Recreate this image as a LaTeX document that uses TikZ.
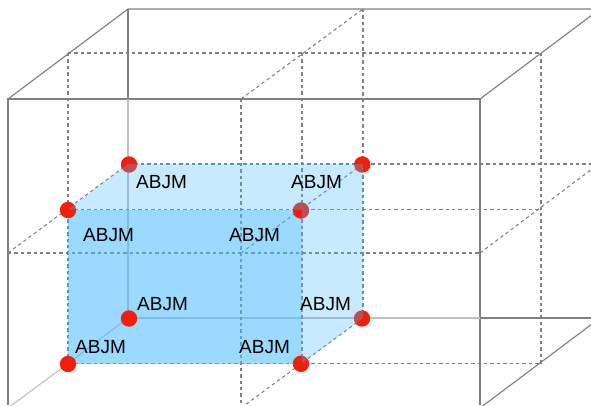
\documentclass[tikz,border=0pt]{standalone}
\usepackage{fontspec}
\setmainfont{Liberation Sans}
\definecolor{frameC}{HTML}{808080}
\definecolor{ghostC}{HTML}{C0C0C0}
\definecolor{dotC}{HTML}{F0200C}
\definecolor{faceC}{HTML}{48B9FF}
\tikzset{
  frame/.style={draw=frameC,line width=1.15pt},
  ghost/.style={draw=ghostC,line width=1.15pt},
  grid/.style={draw=frameC,line width=1.05pt,dash pattern=on 3.4pt off 3pt},
  sideface/.style={fill=faceC,fill opacity=0.3},
  dot/.style={circle,fill=dotC,draw=none,minimum size=16.4pt,inner sep=0pt},
  lab/.style={font=\fontsize{19}{21}\selectfont,text=black,inner sep=0pt}
}
\begin{document}
\begin{tikzpicture}[x=1pt,y=-1pt,line cap=butt]
\useasboundingbox (0,0) rectangle (591,405);
\begin{scope}
\clip (0,0) rectangle (591,405);
% corners of the inner cube
\coordinate (a) at (68,209.5); \coordinate (b) at (302,209.5);
\coordinate (c) at (302,363.5); \coordinate (d) at (68,363.5);
\coordinate (e) at (128,164); \coordinate (f) at (363,164);
\coordinate (g) at (363,318); \coordinate (h) at (128,318);
% solid frame
\draw[frame] (8,405) -- (8,99) -- (480,99) -- (480,405);
\draw[frame] (8,99) -- (128,9) -- (591,9);
\draw[frame] (128,9) -- (128,99);
\draw[frame] (480,99) -- (600,9);
\draw[frame] (480,318) -- (591,318);
\draw[frame] (480,408) -- (600,318);
% light hidden edges
\draw[ghost] (128,99) -- (e) -- (h);
\draw[ghost] (h) -- (480,318);
\draw[ghost] (h) -- (d) -- (8,408);
% dashed grid
\draw[grid] (68,53) -- (541,53);
\draw[grid] (68,53) -- (a) -- (d);
\draw[grid] (541,53) -- (541,363.5);
\draw[grid] (d) -- (541,363.5);
\draw[grid] (241,99) -- (241,405);
\draw[grid] (241,99) -- (363,9);
\draw[grid] (363,9) -- (g);
\draw[grid] (302,53) -- (c);
\draw[grid] (e) -- (591,164);
\draw[grid] (a) -- (541,209.5);
\draw[grid] (8,253) -- (480,253);
\draw[grid] (8,253) -- (e);
\draw[grid] (241,253) -- (f);
\draw[grid] (480,253) -- (600,163);
\draw[grid] (241,408) -- (g);
% front face lies under the dots
\fill[faceC,fill opacity=0.55] (a) -- (b) -- (c) -- (d) -- cycle;
% dots
\node[dot] (ne) at (129,164.5) {}; \node[dot] (nf) at (362.3,164.5) {};
\node[dot] (na) at (68,210) {}; \node[dot] (nb) at (301,210.5) {};
\node[dot] (nd) at (68,364) {}; \node[dot] (nc) at (301,363.8) {};
\node[dot] (nh) at (129,318.5) {}; \node[dot] (ng) at (362,318.5) {};
% top and side faces lie over the dots
\fill[sideface] (a) -- (e) -- (f) -- (b) -- cycle;
\fill[sideface] (b) -- (f) -- (g) -- (c) -- cycle;
% labels
\node[lab,anchor=west] (l1) at (136,182) {ABJM};
\node[lab,anchor=west] (l2) at (291,182) {ABJM};
\node[lab,anchor=west] (l3) at (83,235) {ABJM};
\node[lab,anchor=west] (l4) at (229,235) {ABJM};
\node[lab,anchor=west] (l5) at (137,304) {ABJM};
\node[lab,anchor=west] (l6) at (300,304) {ABJM};
\node[lab,anchor=west] (l7) at (75,347) {ABJM};
\node[lab,anchor=west] (l8) at (239,347) {ABJM};
\end{scope}
\end{tikzpicture}
\end{document}
